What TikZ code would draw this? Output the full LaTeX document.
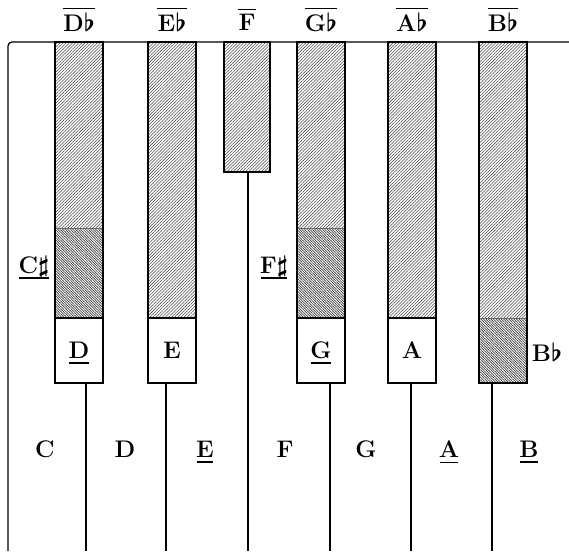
\documentclass[tikz,border=0pt]{standalone}
\usepackage{fontspec}
\usetikzlibrary{patterns.meta}
\newcommand\fl{\ensuremath{\flat}}
\newcommand\shp{\ensuremath{\sharp}}
\begin{document}
\begin{tikzpicture}[x=1pt,y=-1pt,
  lab/.style={font=\fontsize{24}{27}\selectfont\bfseries\boldmath, inner sep=0pt},
  lighthatch/.style={pattern={Lines[angle=45,distance=2.2pt,line width=0.55pt]}, pattern color=black!70},
  darkhatch/.style={pattern={Lines[angle=-45,distance=1.8pt,line width=0.7pt]}, pattern color=black!75},
  keyout/.style={draw=black, line width=1.6pt},
  divider/.style={draw=black, line width=1.3pt},
  frame/.style={draw=black, line width=1.3pt},
  oline/.style={draw=black, line width=1.3pt},
  uline/.style={draw=black, line width=1.8pt}]
\useasboundingbox (0,0) rectangle (569,551);
% frame
\draw[frame] (8,551) -- (8,46) to[out=90,in=180] (12,42) -- (569,42);
% Db key
\fill[lighthatch] (55,42) rectangle (103,228);
\fill[darkhatch] (55,228) rectangle (103,318);
\draw[black!60, line width=0.8pt] (55,228) -- (103,228);
\draw[keyout] (55,318) -- (103,318);
\draw[keyout] (55,42) rectangle (103,383);
\coordinate (dbb) at (86,383);
% Eb key
\fill[lighthatch] (148,42) rectangle (196,318);
\draw[keyout] (148,318) -- (196,318);
\draw[keyout] (148,42) rectangle (196,383);
\coordinate (ebb) at (166,383);
% F key (short)
\fill[lighthatch] (224,42) rectangle (270,172);
\draw[keyout] (224,42) rectangle (270,172);
\coordinate (fb) at (248,172);
% Gb key
\fill[lighthatch] (297,42) rectangle (345,228);
\fill[darkhatch] (297,228) rectangle (345,318);
\draw[black!60, line width=0.8pt] (297,228) -- (345,228);
\draw[keyout] (297,318) -- (345,318);
\draw[keyout] (297,42) rectangle (345,383);
\coordinate (gbb) at (330,383);
% Ab key
\fill[lighthatch] (388,42) rectangle (436,318);
\draw[keyout] (388,318) -- (436,318);
\draw[keyout] (388,42) rectangle (436,383);
\coordinate (abb) at (411,383);
% Bb key
\fill[lighthatch] (479,42) rectangle (527,318);
\fill[darkhatch] (479,318) rectangle (527,383);
\draw[black!60, line width=0.8pt] (479,318) -- (527,318);
\draw[keyout] (479,42) rectangle (527,383);
\coordinate (bbb) at (492,383);
% dividers between white keys
\coordinate (d1) at (86,551);
\coordinate (d2) at (166,551);
\coordinate (d3) at (248,551);
\coordinate (d4) at (330,551);
\coordinate (d5) at (411,551);
\coordinate (d6) at (492,551);
\draw[divider] (dbb) -- (d1);
\draw[divider] (ebb) -- (d2);
\draw[divider] (fb) -- (d3);
\draw[divider] (gbb) -- (d4);
\draw[divider] (abb) -- (d5);
\draw[divider] (bbb) -- (d6);
% top labels (overlined)
\node[lab] (tDb) at (79,22) {D\fl};
\node[lab] (tEb) at (172,22) {E\fl};
\node[lab] (tF) at (247,22) {F};
\node[lab] (tGb) at (321,22) {G\fl};
\node[lab] (tAb) at (412,22) {A\fl};
\node[lab] (tBb) at (503,22) {B\fl};
\foreach \n in {tDb,tEb,tF,tGb,tAb,tBb}
  \draw[oline] ([yshift=4pt]\n.north west) -- ([yshift=4pt]\n.north east);
% side labels
\node[lab] (Cs) at (34,267) {C\shp};
\node[lab] (Fs) at (274,267) {F\shp};
\node[lab] (Bbs) at (547,352) {B\fl};
% box labels
\node[lab] (bD) at (79,350) {D};
\node[lab] (bE) at (172,350) {E};
\node[lab] (bG) at (321,350) {G};
\node[lab] (bA) at (412,350) {A};
% bottom labels
\node[lab] (wC) at (45,449) {C};
\node[lab] (wD) at (125,449) {D};
\node[lab] (wE) at (205,449) {E};
\node[lab] (wF) at (285,449) {F};
\node[lab] (wG) at (366,449) {G};
\node[lab] (wA) at (449,449) {A};
\node[lab] (wB) at (529,449) {B};
\foreach \n in {Cs,Fs,bD,bG,wE,wA,wB}
  \draw[uline] ([xshift=1pt,yshift=-5pt]\n.base west) -- ([xshift=-1pt,yshift=-5pt]\n.base east);
\end{tikzpicture}
\end{document}
